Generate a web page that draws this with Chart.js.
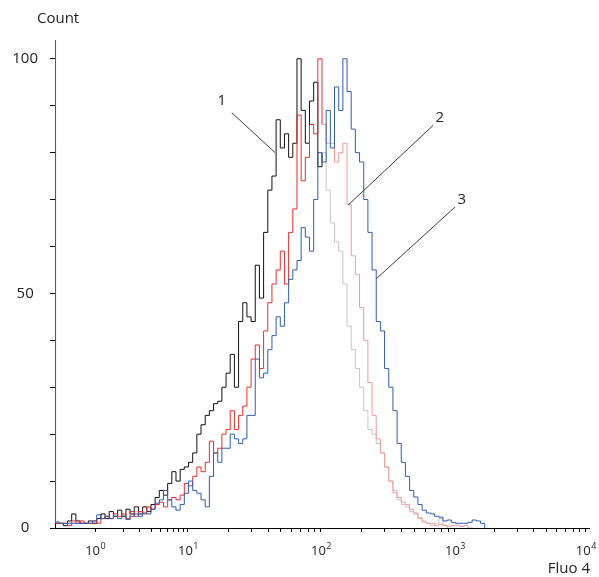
<!DOCTYPE html>
<html>
<head>
<meta charset="utf-8">
<script src="https://cdn.jsdelivr.net/npm/chart.js@4.4.0/dist/chart.umd.min.js"></script>
<style>
  body { margin: 0; background: #fff; }
  #wrap { width: 599px; height: 577px; }
</style>
</head>
<body>
<div id="wrap"><canvas id="histChart"></canvas></div>
<script>
// Histogram bins: 8 channels each (bin 0 starts at channel 1, channel 0 holds the pile-up)
const binWidth = 8;
const channelMax = 1024;
// channel position of each decade 10^0 .. 10^4 on the Fluo 4 axis
const decadeChannels = [77, 255, 510, 767, 1018];
const decadeExponents = ['0', '1', '2', '3', '4'];
// beyond this channel the curves are drawn in their light tone
const gateChannel = 512;

const yTickValues = [0, 10, 20, 30, 40, 50, 60, 70, 80, 90, 100];
const yTickLabels = [0, 50, 100];

// counts piled up in channel 0: sample 1, sample 2, sample 3
const channelZero = [1, 82, 110];

const sample1 = [
  1, 1, 0.5, 1.5, 3, 1.5, 1, 1, 1.5, 1,
  2, 3, 2, 3.5, 2.5, 3.8, 2.5, 4, 3, 4.5,
  3, 4.5, 3.5, 5, 6.5, 8, 7, 9.5, 12, 10,
  12.5, 13, 14, 16, 20, 22, 24, 25, 26.5, 27,
  30, 33, 37, 30, 44, 48, 45, 44, 56, 49,
  63, 72, 75, 87, 81, 84, 79, 82, 100, 89,
  82, 91, 95, 77, 80, 72, 65, 61, 59, 52,
  43, 38, 34, 30, 25, 21, 20, 18, 16, 13,
  10, 8, 6, 5, 4.5, 3.5, 3, 2.3, 1.5, 1,
  0.5, 1, 2, 0.5, 0
];

const sample2 = [
  1, 1, 1, 0.5, 1.5, 1, 1.5, 1, 1, 1.5,
  1, 2, 2.5, 2, 3, 2.5, 3, 2, 3.5, 2.5,
  3.5, 3, 4.5, 4, 5, 5.5, 4.5, 6, 6.5, 6,
  7, 9.5, 9, 11, 13, 12, 14, 18.5, 16, 17,
  20, 21, 25, 21, 24, 26, 30, 36, 39, 34,
  42, 48, 52, 55, 59, 52, 63, 68, 88, 74,
  79, 86, 84, 100, 86, 82, 82, 78, 80, 82,
  69, 58, 54, 47, 40, 31, 24, 19, 16, 13,
  10, 7.5, 6.5, 5.5, 5, 4, 3.2, 2, 1.3, 1,
  1, 0.5, 0.8, 0.5, 0.4, 0.6, 0.6, 0.3, 0.5, 0,
  0
];

const sample3 = [
  1.3, 1, 1, 1, 1, 1, 1, 1, 1, 1.5,
  2.8, 2, 2.5, 2, 2.5, 2, 2.5, 1.8, 2.5, 3,
  2.5, 3.2, 3, 4, 5.3, 6, 8, 6, 4.5, 3.8,
  5, 7.4, 10, 8, 7.4, 6, 4.5, 11, 16, 14,
  17, 17, 20, 19, 18, 19, 24, 24, 36, 32,
  33, 38, 41, 45, 43, 48, 53, 55, 57, 64,
  62, 59, 70, 80, 78, 89, 81, 94, 89, 100,
  93, 85, 80, 78, 70, 63, 55, 44, 42, 34,
  30, 25, 18, 14, 11, 8, 6.6, 5, 3.8, 3.2,
  3, 2.5, 2.3, 1.5, 1.7, 1.2, 1, 1, 1, 1.2,
  1.7, 1.5, 1, 0
];

// callouts: label, text anchor, line start, line end  (channel, count)
const calloutLabels = ['1', '2', '3'];
const calloutTextAt = [[320, 91], [738, 87.5], [780, 70]];
const calloutFrom = [[339, 88.5], [725, 85.8], [767, 68.4]];
const calloutTo = [[422, 80], [562, 68.8], [616, 53.1]];

const FONT = '"Open Sans", "Noto Sans", sans-serif';
const TEXT_COLOR = '#222';

/**
 * Turn bin counts into step-line points on the channel axis
 */
function toPoints(zero, counts) {
  const points = [{ x: 0, y: zero }];
  counts.forEach((c, i) => {
    points.push({ x: i === 0 ? 1 : i * binWidth, y: c });
  });
  return points;
}

/**
 * Decade and minor tick channels (2..9 inside each decade)
 */
function buildXTicks() {
  const ticks = [];
  for (let d = 0; d < decadeChannels.length - 1; d++) {
    const start = decadeChannels[d];
    const width = decadeChannels[d + 1] - start;
    ticks.push(start);
    for (let k = 2; k <= 9; k++) {
      ticks.push(start + Math.log10(k) * width);
    }
  }
  ticks.push(decadeChannels[decadeChannels.length - 1]);
  return ticks;
}

function gatedColor(dark, light) {
  return ctx => (ctx.p0.parsed.x >= gateChannel ? light : dark);
}

// Texts, callouts and the 10^n labels
const overlayPlugin = {
  id: 'overlay',
  afterDatasetsDraw(chart) {
    const { ctx, chartArea, scales } = chart;
    const xs = scales.x;
    const ys = scales.y;
    ctx.save();

    // callout leader lines
    ctx.strokeStyle = '#3c3c3c';
    ctx.lineWidth = 1;
    calloutLabels.forEach((label, i) => {
      ctx.beginPath();
      ctx.moveTo(xs.getPixelForValue(calloutFrom[i][0]), ys.getPixelForValue(calloutFrom[i][1]));
      ctx.lineTo(xs.getPixelForValue(calloutTo[i][0]), ys.getPixelForValue(calloutTo[i][1]));
      ctx.stroke();
    });

    ctx.fillStyle = TEXT_COLOR;
    ctx.font = '15px ' + FONT;
    ctx.textAlign = 'center';
    ctx.textBaseline = 'middle';
    calloutLabels.forEach((label, i) => {
      ctx.fillText(label, xs.getPixelForValue(calloutTextAt[i][0]), ys.getPixelForValue(calloutTextAt[i][1]));
    });

    // axis titles
    ctx.textBaseline = 'alphabetic';
    ctx.textAlign = 'left';
    ctx.fillText('Count', chartArea.left - 18, chartArea.top - 17);
    ctx.textAlign = 'right';
    ctx.fillText('Fluo 4', chartArea.right + 1, chartArea.bottom + 45);

    // decade labels 10^n
    ctx.textAlign = 'left';
    decadeChannels.forEach((ch, i) => {
      const px = xs.getPixelForValue(ch);
      ctx.font = '13px ' + FONT;
      const wBase = ctx.measureText('10').width;
      ctx.font = '9px ' + FONT;
      const wExp = ctx.measureText(decadeExponents[i]).width;
      const left = px - (wBase + wExp) / 2;
      ctx.font = '13px ' + FONT;
      ctx.fillText('10', left, chartArea.bottom + 27);
      ctx.font = '9px ' + FONT;
      ctx.fillText(decadeExponents[i], left + wBase + 0.5, chartArea.bottom + 21);
    });

    ctx.restore();
  }
};

function initializeHistogram() {
  const canvas = document.getElementById('histChart');
  const xTicks = buildXTicks();

  new Chart(canvas, {
    type: 'line',
    data: {
      datasets: [
        {
          label: '3',
          data: toPoints(channelZero[2], sample3),
          borderColor: '#2f5db0',
          stepped: true
        },
        {
          label: '2',
          data: toPoints(channelZero[1], sample2),
          borderColor: '#ee2a2a',
          segment: { borderColor: gatedColor('#ee2a2a', '#f39a9a') },
          stepped: true
        },
        {
          label: '1',
          data: toPoints(channelZero[0], sample1),
          borderColor: '#111111',
          segment: { borderColor: gatedColor('#111111', '#c6c6c6') },
          stepped: true
        }
      ]
    },
    options: {
      responsive: true,
      maintainAspectRatio: false,
      animation: false,
      layout: { padding: { top: 40, right: 10, left: 0, bottom: 0 } },
      elements: {
        point: { radius: 0 },
        line: { borderWidth: 1, tension: 0 }
      },
      plugins: {
        legend: { display: false },
        tooltip: { enabled: false }
      },
      scales: {
        x: {
          type: 'linear',
          min: 0,
          max: channelMax,
          afterBuildTicks: scale => {
            scale.ticks = xTicks.map(v => ({ value: v }));
          },
          afterFit: scale => { scale.height = 49; },
          ticks: { autoSkip: false, maxRotation: 0, padding: 0, callback: () => '' },
          grid: { drawOnChartArea: false, drawTicks: true, tickLength: 4, color: '#000' },
          border: { display: true, color: '#000', width: 1 }
        },
        y: {
          type: 'linear',
          min: 0,
          max: 104,
          afterBuildTicks: scale => {
            scale.ticks = yTickValues.map(v => ({ value: v }));
          },
          afterFit: scale => { scale.width = 55; },
          ticks: {
            autoSkip: false,
            crossAlign: 'center',
            padding: 12,
            color: TEXT_COLOR,
            font: { family: FONT, size: 15 },
            callback: v => (yTickLabels.includes(v) ? String(v) : '')
          },
          grid: { drawOnChartArea: false, drawTicks: true, tickLength: 5, color: '#000' },
          border: { display: true, color: '#000', width: 1 }
        }
      }
    },
    plugins: [overlayPlugin]
  });
}

document.addEventListener('DOMContentLoaded', initializeHistogram);
</script>
</body>
</html>
